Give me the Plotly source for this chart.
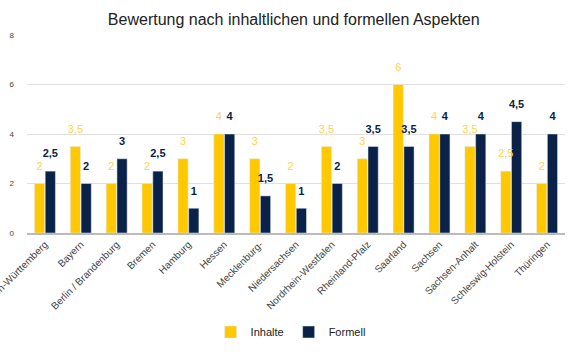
import plotly.graph_objects as go

categories = ["Baden-Württemberg", "Bayern", "Berlin / Brandenburg", "Bremen", "Hamburg",
              "Hessen", "Mecklenburg-", "Niedersachsen", "Nordrhein-Westfalen",
              "Rheinland-Pfalz", "Saarland", "Sachsen", "Sachsen-Anhalt",
              "Schleswig-Holstein", "Thüringen"]
inhalte = [2, 3.5, 2, 2, 3, 4, 3, 2, 3.5, 3, 6, 4, 3.5, 2.5, 2]
formell = [2.5, 2, 3, 2.5, 1, 4, 1.5, 1, 2, 3.5, 3.5, 4, 4, 4.5, 4]

yellow = "#FFC800"
navy = "#0A2248"
font_family = "Arial, Liberation Sans, sans-serif"


def fmt(v):
    return f"{v:g}".replace(".", ",")


fig = go.Figure()
fig.add_trace(go.Bar(name="Inhalte", x=categories, y=inhalte, marker_color=yellow,
                     offsetgroup="a", alignmentgroup="g"))
fig.add_trace(go.Bar(name="Formell", x=categories, y=formell, marker_color=navy,
                     offsetgroup="b", alignmentgroup="g"))
fig.add_trace(go.Scatter(
    x=categories, y=inhalte, mode="markers+text", text=[fmt(v) for v in inhalte],
    textposition="top center", marker=dict(size=16, opacity=0),
    textfont=dict(color="#FFD24D", size=11, family=font_family),
    offsetgroup="a", alignmentgroup="g", showlegend=False, hoverinfo="skip",
    cliponaxis=False,
))
fig.add_trace(go.Scatter(
    x=categories, y=formell, mode="markers+text", text=[f"<b>{fmt(v)}</b>" for v in formell],
    textposition="top center", marker=dict(size=16, opacity=0),
    textfont=dict(color=navy, size=11, family=font_family),
    offsetgroup="b", alignmentgroup="g", showlegend=False, hoverinfo="skip",
    cliponaxis=False,
))

fig.update_layout(
    width=576, height=360,
    margin=dict(l=27, r=11, t=35, b=127),
    paper_bgcolor="white", plot_bgcolor="white",
    title=dict(text="Bewertung nach inhaltlichen und formellen Aspekten",
               x=0.51, xanchor="center", y=0.945, yanchor="middle",
               font=dict(size=16, color="#222222", family=font_family)),
    font=dict(family=font_family),
    barmode="group", bargap=0.4, bargroupgap=0.05,
    scattermode="group", scattergap=0.4,
    legend=dict(orientation="h", x=0.49, xanchor="center", y=-0.5, yanchor="middle",
                font=dict(size=11, color="#222222"), itemwidth=30),
    xaxis=dict(tickangle=-45, tickfont=dict(size=10, color="#444444"), automargin=False,
               showline=True, linecolor="#BBBBBB", linewidth=1.5, ticks=""),
    yaxis=dict(range=[0, 8], dtick=2, gridcolor="#E0E0E0", gridwidth=1, automargin=False,
               tickfont=dict(size=8, color="#444444"), zeroline=False,
               ticks="", ticklabelstandoff=12),
)

fig.write_html("out.html", config={"displayModeBar": False},
               post_script="document.body.style.margin='0';")
